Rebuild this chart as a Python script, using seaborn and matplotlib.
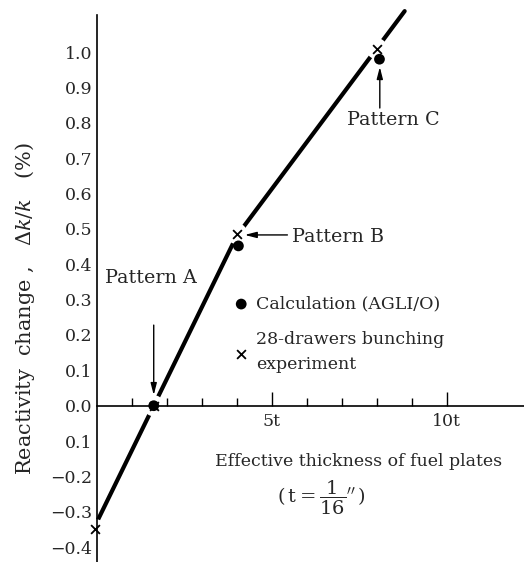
import numpy as np
import pandas as pd
import seaborn as sns
import matplotlib
matplotlib.use("Agg")
import matplotlib.pyplot as plt

# ---------------- data ----------------
# fitted line (thickness in units of t, reactivity change in %)
line_t = [0.0, 1.63, 4.0, 8.0, 8.8]
line_v = [-0.33, 0.0, 0.48, 1.01, 1.116]

# calculation (AGLI/O) points
calc_t = [1.63, 4.05, 8.08]
calc_v = [0.0, 0.452, 0.98]

# 28-drawers bunching experiment points
exp_t = [-0.05, 1.63, 4.0, 8.0]
exp_v = [-0.35, 0.0, 0.487, 1.01]

y_ticks = [-0.4, -0.3, -0.2, -0.1, 0.0, 0.1, 0.2, 0.3, 0.4, 0.5, 0.6, 0.7, 0.8, 0.9, 1.0]
y_ticklabels = ["\u22120.4", "\u22120.3", "\u22120.2", "0.1", "0.0", "0.1", "0.2", "0.3",
                "0.4", "0.5", "0.6", "0.7", "0.8", "0.9", "1.0"]
x_major = [5, 10]
x_major_labels = ["5t", "10t"]
x_minor = [1, 2, 3, 4, 6, 7, 8, 9]

patterns = ["Pattern A", "Pattern B", "Pattern C"]

# ---------------- style ----------------
sns.set_style("white")
plt.rcParams["font.family"] = ["DejaVu Serif"]
plt.rcParams["mathtext.fontset"] = "dejavuserif"
FS = 12.5
FS_PAT = 13.8
FS_YLAB = 15

fig = plt.figure(figsize=(5.24, 5.62), dpi=100)
ax = fig.add_axes([0.1845, 0.0, 0.8155, 0.9733])
ax.set_xlim(0, 12.21)
ax.set_ylim(-0.442, 1.105)
ax.set_axisbelow(False)

line_df = pd.DataFrame({"t": line_t, "v": line_v})
calc_df = pd.DataFrame({"t": calc_t, "v": calc_v})
exp_df = pd.DataFrame({"t": exp_t, "v": exp_v})

sns.lineplot(data=line_df, x="t", y="v", sort=False, estimator=None, ax=ax,
             color="black", lw=3.0, zorder=1.5, clip_on=False)
# white gaps in the line around the experimental points
sns.scatterplot(data=exp_df, x="t", y="v", ax=ax, s=230, color="white",
                edgecolor="none", zorder=1.8, clip_on=False, legend=False)
sns.scatterplot(data=calc_df, x="t", y="v", ax=ax, s=60, color="black",
                edgecolor="none", zorder=3, clip_on=False,
                label="Calculation (AGLI/O)")
sns.scatterplot(data=exp_df, x="t", y="v", ax=ax, s=40, marker="x", color="black",
                linewidth=1.3, zorder=3.1, clip_on=False,
                label="28-drawers bunching\nexperiment")

# ---------------- axes ----------------
for s in ["top", "right"]:
    ax.spines[s].set_visible(False)
ax.spines["bottom"].set_position(("data", 0))
ax.spines["left"].set_position(("data", 0))
for s in ["left", "bottom"]:
    ax.spines[s].set_linewidth(1.2)
    ax.spines[s].set_color("black")

ax.set_yticks(y_ticks)
ax.set_yticklabels(y_ticklabels, fontsize=FS)
ax.tick_params(axis="y", direction="in", length=6, width=1.0, pad=3, color="black")

ax.set_xticks(x_major)
ax.set_xticklabels(x_major_labels, fontsize=FS)
ax.set_xticks(x_minor, minor=True)
ax.tick_params(axis="x", which="major", direction="in", length=10, width=1.0, pad=5)
ax.tick_params(axis="x", which="minor", direction="in", length=6, width=1.0)
ax.tick_params(axis="x", which="both", bottom=True, color="black")

ax.set_xlabel("")
ax.set_ylabel("Reactivity  change ,   $\\Delta k/k$   (%)", fontsize=FS_YLAB)
ax.yaxis.set_label_coords(-0.140, 0.463)

ax.text(7.48, -0.159, "Effective thickness of fuel plates", fontsize=FS,
        ha="center", va="center")
ax.text(6.43, -0.262, r"$(\,\mathrm{t}=\dfrac{1}{16}{}^{\prime\prime}\,)$", fontsize=14,
        ha="center", va="center")

# ---------------- annotations ----------------
arrow = dict(arrowstyle="-|>,head_length=0.7,head_width=0.18", color="black", lw=1.0,
             shrinkA=0, shrinkB=0)
ax.text(0.24, 0.362, patterns[0], fontsize=FS_PAT, ha="left", va="center")
ax.annotate("", xy=(1.63, 0.03), xytext=(1.63, 0.228), arrowprops=arrow)
ax.text(5.57, 0.478, patterns[1], fontsize=FS_PAT, ha="left", va="center")
ax.annotate("", xy=(4.23, 0.483), xytext=(5.45, 0.483), arrowprops=arrow)
ax.text(8.48, 0.808, patterns[2], fontsize=FS_PAT, ha="center", va="center")
ax.annotate("", xy=(8.09, 0.958), xytext=(8.09, 0.842), arrowprops=arrow)

leg = ax.legend(loc="upper left", bbox_to_anchor=(0.322, 0.487), frameon=False,
                fontsize=FS, handlelength=0.8, handletextpad=0.45, borderpad=0,
                borderaxespad=0, labelspacing=1.05)
for txt in leg.get_texts():
    txt.set_linespacing(1.62)

fig.savefig("out.png", dpi=100)
